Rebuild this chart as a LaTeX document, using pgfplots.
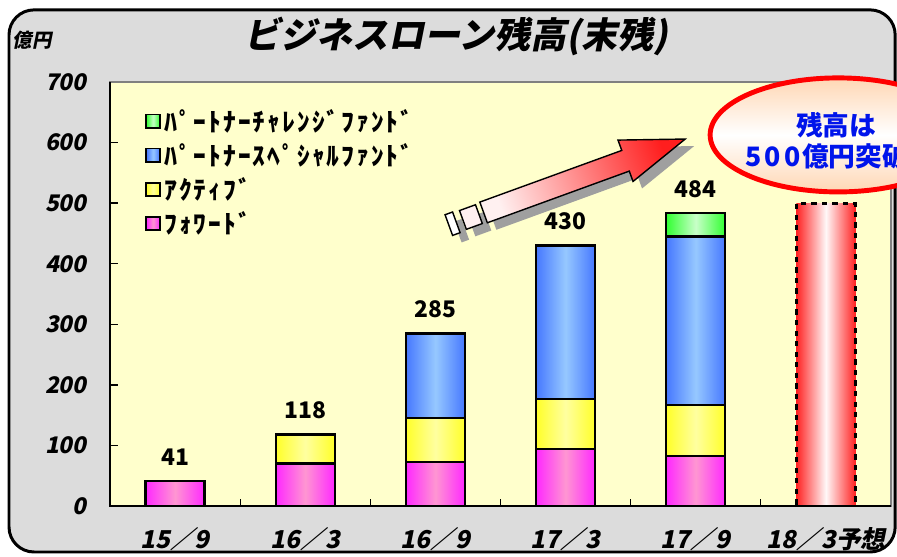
\documentclass[border=0pt]{standalone}
\usepackage{fontspec}
\usepackage{pgfplots}
\pgfplotsset{compat=1.18}

\newfontfamily\jp{Noto Sans CJK JP}
\newfontfamily\jpi{Noto Sans CJK JP}[FakeSlant=0.2]
\newfontfamily\jpl{Noto Sans CJK JP}[LetterSpace=8]

\definecolor{framebg}{RGB}{220,220,220}
\definecolor{plotbg}{RGB}{255,255,204}
\definecolor{fwEdge}{RGB}{255,40,255}
\definecolor{fwMid}{RGB}{255,150,210}
\definecolor{acEdge}{RGB}{255,255,40}
\definecolor{acMid}{RGB}{255,255,160}
\definecolor{spEdge}{RGB}{70,120,255}
\definecolor{spMid}{RGB}{150,200,255}
\definecolor{chEdge}{RGB}{50,255,50}
\definecolor{chMid}{RGB}{200,255,200}
\definecolor{fcEdge}{RGB}{255,35,35}
\definecolor{fcMid}{RGB}{255,248,248}
\definecolor{arTail}{RGB}{255,240,240}
\definecolor{arTip}{RGB}{255,30,30}
\definecolor{peach}{RGB}{255,215,180}
\definecolor{bubbleblue}{RGB}{0,20,235}

% one \addplot per bar, so that each bar gets its own gradient
\pgfplotsset{
  barsty/.style={ybar, bar width=1.18cm, bar shift=0pt, draw=black, line width=1.3pt,
    left color=#1Edge, right color=#1Edge, middle color=#1Mid,
    legend image code/.code={\draw[##1, line width=1pt] (0cm,-0.13cm) rectangle (0.27cm,0.14cm);}},
}

\begin{document}
\begin{tikzpicture}
\useasboundingbox (0,0) rectangle (17.94cm,11.14cm);
\clip (0,0) rectangle (17.94cm,11.14cm);
\begin{scope}[x=0.02cm, y=0.02cm]
\draw[fill=framebg, line width=1.7pt, rounded corners=0.5cm] (9,5) rectangle (895,547);
\end{scope}

\begin{axis}[
  at={(2.2cm,1.02cm)}, anchor=south west,
  scale only axis, width=15.62cm, height=8.48cm,
  xmin=-0.5, xmax=5.5, ymin=0, ymax=700,
  axis background/.style={fill=plotbg},
  axis line style={draw=gray, line width=1pt},
  xtick={0,...,5},
  xticklabels={15／9,16／3,16／9,17／3,17／9,18／3予想},
  minor xtick={0.5,1.5,2.5,3.5,4.5},
  ytick={0,100,...,700},
  tick align=inside,
  xtick pos=bottom, ytick pos=left,
  major x tick style={draw=none},
  minor x tick style={draw=black, line width=0.6pt},
  y tick style={draw=black, line width=0.8pt},
  major tick length=0.16cm, minor tick length=0.13cm,
  /pgf/number format/assume math mode=true,
  yticklabel style={font=\jpi\bfseries\fontsize{13}{13}\selectfont, xshift=-0.34cm},
  xticklabel style={font=\jpi\bfseries\fontsize{14}{14}\selectfont, yshift=-0.3cm},
  legend style={at={(0.045,0.945)}, anchor=north west, draw=none, fill=none, inner sep=0pt,
    font=\jpl\bfseries\fontsize{14.5}{14.5}\selectfont, row sep=0.05cm, cells={anchor=west}},
  clip=false,
]
% top of each layer, drawn back to front
\addplot[barsty=ch] coordinates {(4,484)};
\addlegendentry{ﾊﾟｰﾄﾅｰﾁｬﾚﾝｼﾞﾌｧﾝﾄﾞ}
\addplot[barsty=sp] coordinates {(2,285)};
\addlegendentry{ﾊﾟｰﾄﾅｰｽﾍﾟｼｬﾙﾌｧﾝﾄﾞ}
\addplot[barsty=sp, forget plot] coordinates {(3,430)};
\addplot[barsty=sp, forget plot] coordinates {(4,445)};
\addplot[barsty=ac] coordinates {(1,118)};
\addlegendentry{ｱｸﾃｨﾌﾞ}
\addplot[barsty=ac, forget plot] coordinates {(2,145)};
\addplot[barsty=ac, forget plot] coordinates {(3,177)};
\addplot[barsty=ac, forget plot] coordinates {(4,167)};
\addplot[barsty=fw] coordinates {(0,41)};
\addlegendentry{ﾌｫﾜｰﾄﾞ}
\addplot[barsty=fw, forget plot] coordinates {(1,70)};
\addplot[barsty=fw, forget plot] coordinates {(2,73)};
\addplot[barsty=fw, forget plot] coordinates {(3,94)};
\addplot[barsty=fw, forget plot] coordinates {(4,83)};
% forecast
\addplot[barsty=fc, line width=1.6pt, dash pattern=on 3pt off 3pt, forget plot] coordinates {(5,500)};
% totals
\addplot[draw=none, mark=none, forget plot, nodes near coords, point meta=explicit symbolic,
  nodes near coords style={font=\jp\bfseries\fontsize{13}{13}\selectfont, anchor=south, inner sep=0pt, yshift=0.3cm}]
  coordinates {(0,41) [41] (1,118) [118] (2,285) [285] (3,430) [430] (4,484) [484]};
\draw[black, line width=1.2pt] (rel axis cs:0,1) -- (rel axis cs:0,0) -- (rel axis cs:1,0);
\end{axis}

\begin{scope}[x=0.02cm, y=0.02cm]
\node[font=\jpi\bfseries\fontsize{20.5}{20.5}\selectfont] at (456,520) {ビジネスローン残高(末残)};
\node[font=\jpi\bfseries\fontsize{11}{11}\selectfont] at (32,517) {億円};

% arrow with shadow
\tikzset{ar/.style={shift={(483.5,344.5)}, rotate=20},
         ars/.style={shift={(492.5,337.5)}, rotate=20}}
\fill[gray!75] ([ars]0,-11) -- ([ars]151,-11) -- ([ars]151,-22) -- ([ars]214.5,0) -- ([ars]151,22) -- ([ars]151,11) -- ([ars]0,11) -- cycle;
\fill[gray!75] ([ars]-22,-10) -- ([ars]-5,-10) -- ([ars]-5,10) -- ([ars]-22,10) -- cycle;
\fill[gray!75] ([ars]-37,-11) -- ([ars]-29,-11) -- ([ars]-29,11) -- ([ars]-37,11) -- cycle;
\draw[line width=0.8pt, bottom color=arTail, top color=arTip, shading angle=-70]
  ([ar]0,-11) -- ([ar]151,-11) -- ([ar]151,-22) -- ([ar]214.5,0) -- ([ar]151,22) -- ([ar]151,11) -- ([ar]0,11) -- cycle;
\draw[line width=0.8pt, fill=arTail] ([ar]-22,-10) -- ([ar]-5,-10) -- ([ar]-5,10) -- ([ar]-22,10) -- cycle;
\draw[line width=0.8pt, fill=white] ([ar]-37,-11) -- ([ar]-29,-11) -- ([ar]-29,11) -- ([ar]-37,11) -- cycle;

% bubble
\draw[red, line width=2.8pt, top color=peach, bottom color=peach, middle color=white]
  (838,422) ellipse [x radius=128, y radius=57];
\node[font=\jp\bfseries\fontsize{15.2}{15.2}\selectfont, text=bubbleblue] at (836,432) {残高は};
\node[font=\jp\bfseries\fontsize{15.2}{15.2}\selectfont, text=bubbleblue, anchor=west, inner sep=0pt]
  at (745,401) {5\hspace{0.12em}0\hspace{0.12em}0\hspace{0.05em}億円突破};
\end{scope}
\end{tikzpicture}
\end{document}
